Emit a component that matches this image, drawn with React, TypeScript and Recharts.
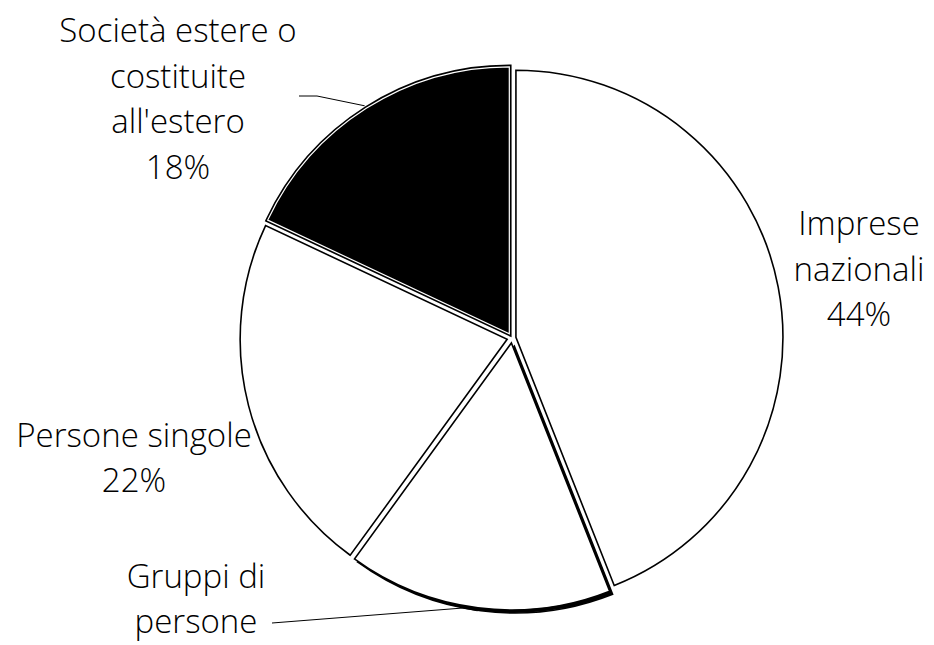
import React from 'react';
import { PieChart, Pie, Cell } from 'recharts';

// ---- data ----
const categories = ['Imprese nazionali', 'Gruppi di persone', 'Persone singole', "Società estere o costituite all'estero"];
const values = [44, 16, 22, 18];
const labelNameLines = [
  ['Imprese', 'nazionali'],
  ['Gruppi di', 'persone'],
  ['Persone singole'],
  ['Società estere o', 'costituite', "all'estero"],
];
const showPercent = [true, false, true, true];
const sliceColors = ['#ffffff', '#ffffff', '#ffffff', '#000000'];

// ---- layout ----
const W = 934;
const H = 645;
const CX = 512;
const CY = 338;
const R = 267;
const EXPLODE = [4, 5, 5, 5];
const LABEL_OFFSET: [number, number][] = [[347, -70], [-316, 260], [-378, 119], [-334, -240]];
const LEADER: (null | [number, number][])[] = [null, [[-240, 285], [-49, 270]], null, [[-213, -242], [-195, -242]]];
const LINE_H = 45.5;
const FONT = "'Open Sans', sans-serif";
const FONT_SIZE = 33;
const FONT_WEIGHT = 350;
const RAD = Math.PI / 180;

const rows = categories.map((name, i) => ({ name, value: values[i] }));
const total = values.reduce((a, b) => a + b, 0);

function midAngleOf(i: number) {
  const before = values.slice(0, i).reduce((a, b) => a + b, 0);
  const start = 90 - (before / total) * 360;
  const end = start - (values[i] / total) * 360;
  return (start + end) / 2;
}

function sliceCenter(i: number): [number, number] {
  const m = midAngleOf(i);
  return [CX + EXPLODE[i] * Math.cos(m * RAD), CY - EXPLODE[i] * Math.sin(m * RAD)];
}

function makeLabel(k: number) {
  return (props: any) => {
    if (props.index !== k) return <g />;
    const lines = [...labelNameLines[k]];
    if (showPercent[k]) lines.push(`${Math.round((props.value / total) * 100)}%`);
    const lx = CX + LABEL_OFFSET[k][0];
    const ly = CY + LABEL_OFFSET[k][1];
    const top = ly - ((lines.length - 1) * LINE_H) / 2;
    const leader = LEADER[k];
    let leaderEl = null;
    if (leader) {
      const m = props.midAngle;
      const ex = props.cx + (props.outerRadius + 3) * Math.cos(m * RAD);
      const ey = props.cy - (props.outerRadius + 3) * Math.sin(m * RAD);
      const pts = leader.map(([dx, dy]) => `${CX + dx},${CY + dy}`).join(' ') + ` ${ex},${ey}`;
      leaderEl = <polyline points={pts} fill="none" stroke="#000" strokeWidth={1} />;
    }
    return (
      <g>
        {leaderEl}
        {lines.map((t, j) => (
          <text
            key={j}
            x={lx}
            y={top + j * LINE_H}
            textAnchor="middle"
            dominantBaseline="central"
            fontFamily={FONT}
            fontSize={FONT_SIZE}
            fontWeight={FONT_WEIGHT}
            fill="#000"
          >
            {t}
          </text>
        ))}
      </g>
    );
  };
}

export default function App() {
  const gs = sliceCenter(1);
  const ss = sliceCenter(3);
  return (
    <div style={{ position: 'absolute', left: 0, top: 0, width: W, height: H, background: '#fff' }}>
      <PieChart width={W} height={H} margin={{ top: 0, right: 0, bottom: 0, left: 0 }}>
        {/* shadow under Gruppi di persone */}
        <Pie
          data={rows}
          dataKey="value"
          cx={gs[0] + 3}
          cy={gs[1] + 3}
          outerRadius={R}
          startAngle={90}
          endAngle={-270}
          isAnimationActive={false}
          label={false}
          labelLine={false}
        >
          {rows.map((r, i) => (
            <Cell key={i} fill={i === 1 ? '#000' : 'none'} stroke={i === 1 ? '#000' : 'none'} strokeWidth={1.5} />
          ))}
        </Pie>
        {rows.map((_, k) => {
          const [sx, sy] = sliceCenter(k);
          return (
            <Pie
              key={`p${k}`}
              data={rows}
              dataKey="value"
              cx={sx}
              cy={sy}
              outerRadius={R}
              startAngle={90}
              endAngle={-270}
              isAnimationActive={false}
              label={makeLabel(k)}
              labelLine={false}
            >
              {rows.map((r, i) => (
                <Cell
                  key={i}
                  fill={i === k ? sliceColors[k] : 'none'}
                  stroke={i === k ? '#000' : 'none'}
                  strokeWidth={k === 3 ? 4.5 : 1.6}
                />
              ))}
            </Pie>
          );
        })}
        {/* inner white line on the black slice */}
        <Pie
          data={rows}
          dataKey="value"
          cx={ss[0]}
          cy={ss[1]}
          outerRadius={R}
          startAngle={90}
          endAngle={-270}
          isAnimationActive={false}
          label={false}
          labelLine={false}
        >
          {rows.map((r, i) => (
            <Cell key={i} fill="none" stroke={i === 3 ? '#fff' : 'none'} strokeWidth={1.2} />
          ))}
        </Pie>
      </PieChart>
    </div>
  );
}
